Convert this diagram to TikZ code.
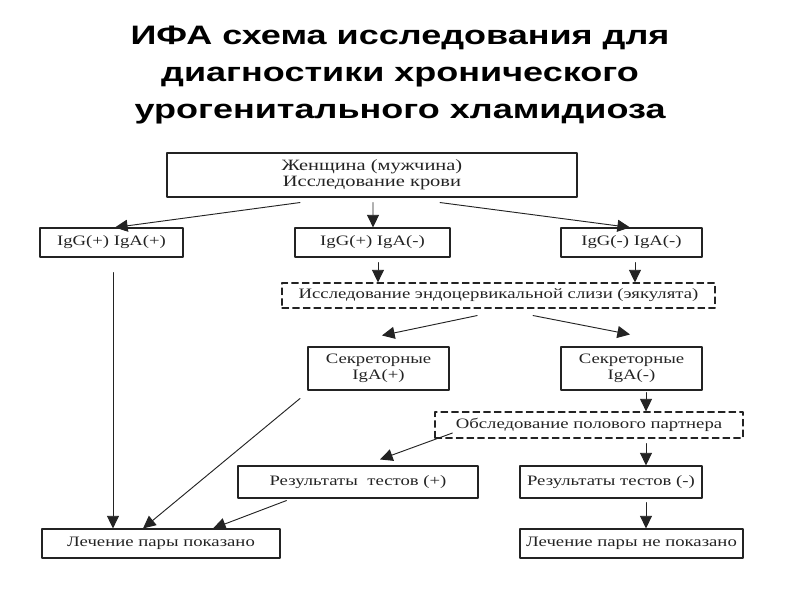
\documentclass[tikz,border=0pt]{standalone}
\usepackage{fontspec}
\setmainfont{Liberation Serif}[FakeStretch=1.3]
\newfontfamily\titlefont{Liberation Sans}[FakeStretch=1.35]
\usetikzlibrary{arrows.meta}
\definecolor{ink}{RGB}{35,35,35}
\tikzset{
  box/.style={draw=ink,text=ink,line width=0.8pt,inner sep=1pt,align=center,
    font=\fontsize{10.8}{12}\selectfont},
  dbox/.style={box,dash pattern=on 5pt off 3pt},
  arr/.style={->,draw=ink,line width=0.7pt}
}
\begin{document}
\begin{tikzpicture}[line cap=round,line join=round,>={Triangle[length=9.5pt,width=9pt]},x=0.75pt,y=-0.75pt]
\useasboundingbox (0,0) rectangle (800,600);
\node[font=\titlefont\bfseries\fontsize{20}{28}\selectfont,align=center] (title) at (400,75)
  {ИФА схема исследования для\\диагностики хронического\\урогенитального хламидиоза};
% blood test and the three results
\node[box,font=\fontsize{11.8}{12}\selectfont,minimum width=307.5pt,minimum height=33pt] (blood) at (372,175) {Женщина (мужчина)\\Исследование крови};
\node[box,minimum width=107.25pt,minimum height=21.75pt] (gpap) at (111.5,242.5) {IgG(+) IgA(+)};
\node[box,minimum width=116.25pt,minimum height=21.75pt] (gpam) at (372.5,242.5) {IgG(+) IgA(-)};
\node[box,minimum width=105.75pt,minimum height=21.75pt] (gmam) at (631.5,242.5) {IgG(-) IgA(-)};
\node[dbox,minimum width=324.75pt,minimum height=18.75pt] (mucus) at (498.5,295.5) {Исследование эндоцервикальной слизи (эякулята)};
\node[box,minimum width=105.75pt,minimum height=32.25pt] (secp) at (378.5,368.5) {Секреторные\\IgA(+)};
\node[box,minimum width=105.75pt,minimum height=32.25pt] (secm) at (631.5,368.5) {Секреторные\\IgA(-)};
\node[dbox,minimum width=231pt,minimum height=19.5pt] (partner) at (589,425) {Обследование полового партнера};
\node[box,minimum width=180pt,minimum height=24pt] (resp) at (358,482) {Результаты\ \ тестов (+)};
\node[box,minimum width=136.5pt,minimum height=24pt] (resm) at (611,482) {Результаты тестов (-)};
\node[box,minimum width=178.5pt,minimum height=21.75pt] (treat) at (161,543.5) {Лечение пары показано};
\node[box,minimum width=167.25pt,minimum height=21.75pt] (notreat) at (631.5,543.5) {Лечение пары не показано};
% arrows
\draw[arr] ([xshift=-54pt,yshift=-3.75pt]blood.south) -- ([xshift=2.6pt]gpap.north);
\draw[arr] ([xshift=0.75pt,yshift=-3.75pt]blood.south) -- ([xshift=0.4pt]gpam.north);
\draw[arr] ([xshift=51pt,yshift=-3.75pt]blood.south) -- ([xshift=-1.1pt]gmam.north);
\draw[arr] ([xshift=4.1pt,yshift=-3.75pt]gpam.south) -- ([xshift=4.1pt]gpam.south |- mucus.north);
\draw[arr] ([xshift=2.6pt,yshift=-3.75pt]gmam.south) -- ([xshift=2.6pt]gmam.south |- mucus.north);
\draw[arr] ([xshift=1.1pt,yshift=-11.25pt]gpap.south) -- ([xshift=1.1pt]gpap.south |- treat.north);
\draw[arr] ([xshift=-16pt,yshift=-5.25pt]mucus.south) -- ([xshift=2.6pt,yshift=8.25pt]secp.north);
\draw[arr] ([xshift=25.9pt,yshift=-5.25pt]mucus.south) -- ([xshift=-1.1pt,yshift=9pt]secm.north);
\draw[arr] ([xshift=10.9pt,yshift=-1.5pt]secm.south) -- ([xshift=10.9pt]secm.south |- partner.north);
\draw[arr] ([xshift=-58.9pt,yshift=-6pt]secp.south) -- ([xshift=-13.5pt]treat.north);
\draw[arr] ([xshift=13.5pt,yshift=-6pt]partner.west) -- ([xshift=16.5pt,yshift=4.5pt]resp.north);
\draw[arr] ([xshift=42.75pt,yshift=-3.75pt]partner.south) -- ([xshift=42.75pt]partner.south |- resm.north);
\draw[arr] ([xshift=36.75pt,yshift=-1.5pt]resp.south west) -- ([xshift=39pt]treat.north);
\draw[arr] ([xshift=26.25pt,yshift=-3pt]resm.south) -- ([xshift=26.25pt]resm.south |- notreat.north);
\end{tikzpicture}
\end{document}
